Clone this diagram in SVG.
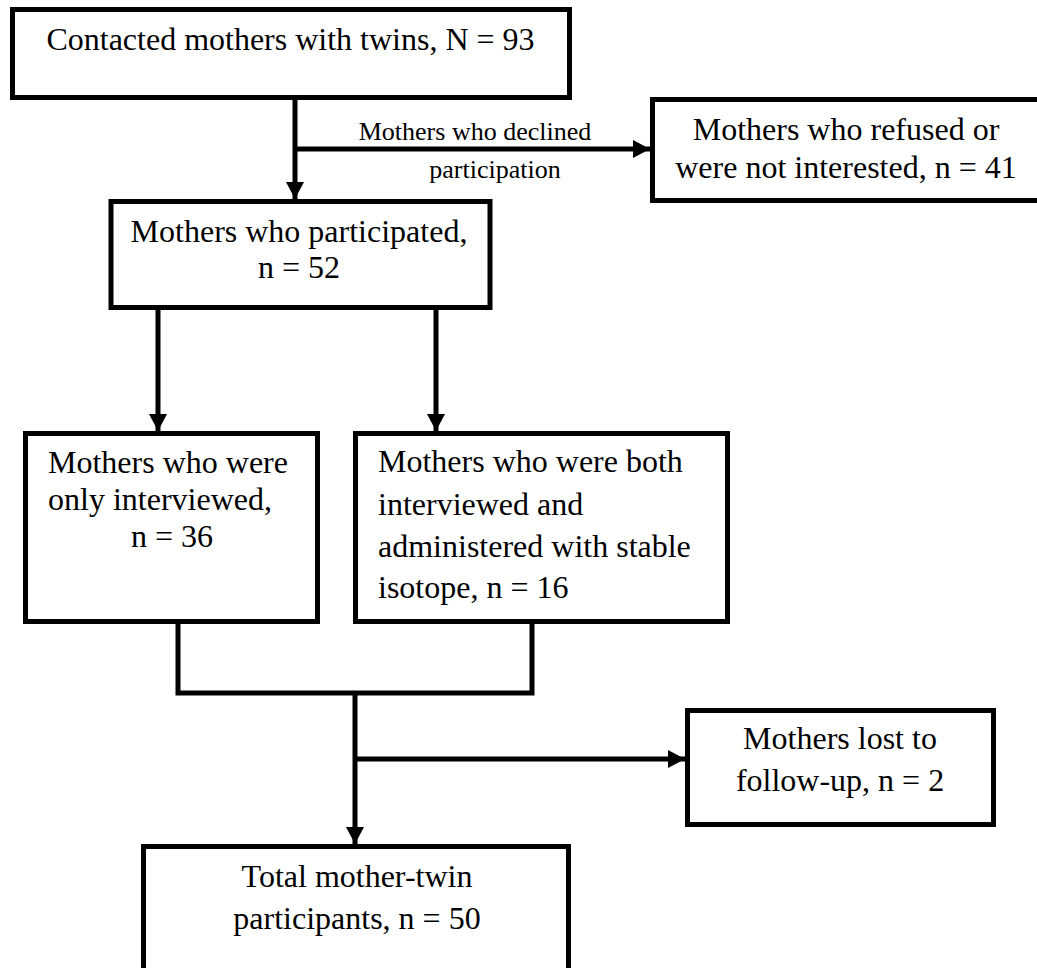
<svg xmlns="http://www.w3.org/2000/svg" width="1037" height="968" viewBox="0 0 1037 968">
<style>
.box{fill:#fff;stroke:#000;stroke-width:5}
.t{font-family:"Liberation Serif","Times New Roman",serif;font-size:32px;fill:#000}
.c{text-anchor:middle}
.lbl{font-family:"Liberation Serif","Times New Roman",serif;font-size:26px;fill:#000;text-anchor:middle}
.ln{fill:none;stroke:#000;stroke-width:5}
</style>
<defs>
<marker id="ah" markerUnits="userSpaceOnUse" markerWidth="18" markerHeight="18" refX="17" refY="9" orient="auto">
<path d="M0,0 L17,9 L0,18 z" fill="#000"/>
</marker>
</defs>
<rect width="1037" height="968" fill="#fff"/>
<g id="connectors">
<line class="ln" x1="295" y1="98" x2="295" y2="199" marker-end="url(#ah)"/>
<line class="ln" x1="295" y1="149" x2="650" y2="149" marker-end="url(#ah)"/>
<line class="ln" x1="158" y1="308" x2="158" y2="431" marker-end="url(#ah)"/>
<line class="ln" x1="436" y1="308" x2="436" y2="431" marker-end="url(#ah)"/>
<path class="ln" d="M178,622 V693 H532 V622"/>
<line class="ln" x1="355" y1="693" x2="355" y2="844" marker-end="url(#ah)"/>
<line class="ln" x1="355" y1="759" x2="685" y2="759" marker-end="url(#ah)"/>
<text class="lbl" x="475" y="140">Mothers who declined</text>
<text class="lbl" x="495" y="178">participation</text>
</g>
<g id="n1">
<rect class="box" x="12.5" y="9.5" width="557" height="88"/>
<text class="t c" x="290.5" y="50">Contacted mothers with twins, N = 93</text>
</g>
<g id="n2">
<rect class="box" x="652.5" y="99.5" width="395" height="101"/>
<text class="t c" x="846" y="140">Mothers who refused or</text>
<text class="t c" x="846" y="178">were not interested, n = 41</text>
</g>
<g id="n3">
<rect class="box" x="111" y="201.5" width="379" height="106"/>
<text class="t c" x="299" y="242">Mothers who participated,</text>
<text class="t c" x="299" y="278">n = 52</text>
</g>
<g id="n4">
<rect class="box" x="25.5" y="433.5" width="292" height="188"/>
<text class="t" x="48" y="473">Mothers who were</text>
<text class="t" x="48" y="510">only interviewed,</text>
<text class="t c" x="172" y="547">n = 36</text>
</g>
<g id="n5">
<rect class="box" x="355.5" y="433.5" width="372" height="188"/>
<text class="t" x="378" y="472">Mothers who were both</text>
<text class="t" x="378" y="515">interviewed and</text>
<text class="t" x="378" y="557">administered with stable</text>
<text class="t" x="378" y="598">isotope, n = 16</text>
</g>
<g id="n6">
<rect class="box" x="687.5" y="710.5" width="306" height="114"/>
<text class="t c" x="840" y="749">Mothers lost to</text>
<text class="t c" x="840" y="791">follow-up, n = 2</text>
</g>
<g id="n7">
<rect class="box" x="143.5" y="846.5" width="425" height="145"/>
<text class="t c" x="357" y="887">Total mother-twin</text>
<text class="t c" x="357" y="929">participants, n = 50</text>
</g>
</svg>
